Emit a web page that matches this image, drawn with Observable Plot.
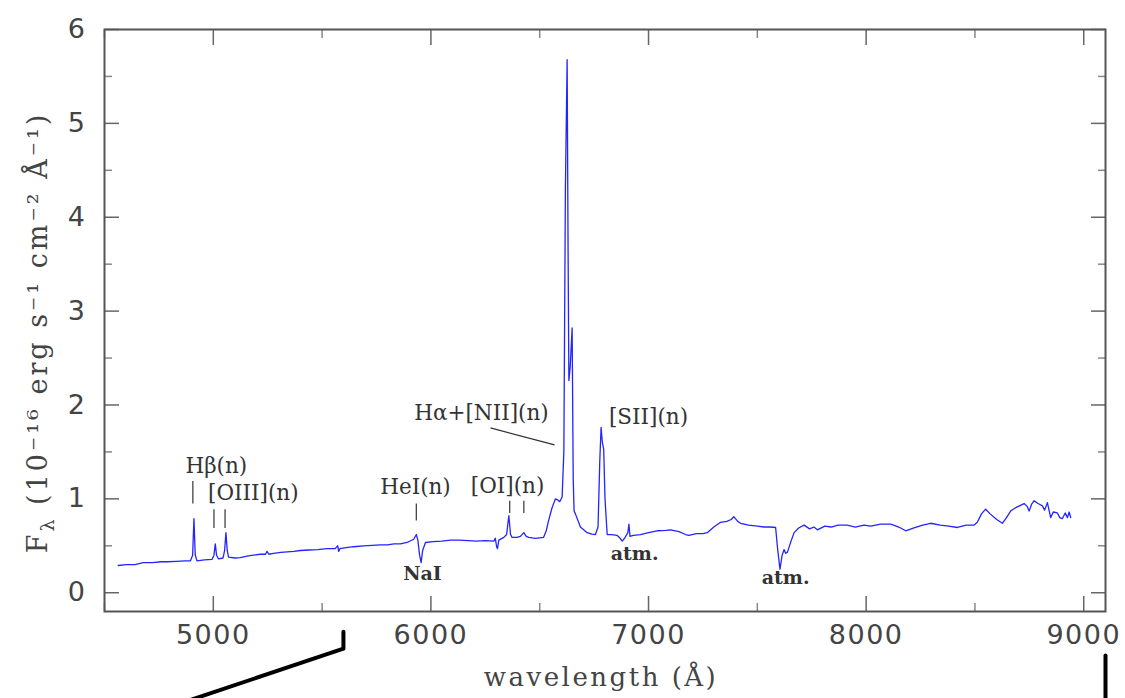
<!DOCTYPE html>
<html>
<head>
<meta charset="utf-8">
<script src="https://cdn.jsdelivr.net/npm/d3@7"></script>
<script src="https://cdn.jsdelivr.net/npm/@observablehq/plot@0.6"></script>
<style>
  html, body { margin: 0; padding: 0; background: #fff; }
  #chart { width: 1125px; height: 698px; overflow: hidden; }
</style>
</head>
<body>
<div id="chart"></div>
<script>
// ---- spectrum (wavelength in Å, flux in 1e-16 erg/s/cm2/Å) ----
const wavelength = [
  4563,4600,4640,4678,4720,4760,4789,4830,4870,4895,4905,4911,4917,4925,4960,4994,
  5003,5009,5015,5024,5045,5052,5058,5064,5070,5100,5124,5155,5184,5215,5240,5247,
  5255,5277,5310,5340,5370,5400,5440,5480,5523,5560,5572,5576,5582,5610,5645,5690,
  5730,5768,5800,5830,5860,5895,5921,5933,5940,5948,5955,5962,5975,6010,6050,6090,
  6130,6170,6210,6250,6289,6296,6302,6306,6312,6335,6348,6358,6366,6373,6395,6411,
  6427,6438,6450,6480,6518,6530,6541,6556,6572,6582,6592,6603,6611,6618,6626,6630,
  6634,6640,6649,6654,6658,6664,6687,6718,6740,6756,6768,6776,6782,6788,6794,6800,
  6810,6830,6856,6870,6879,6890,6905,6910,6915,6930,6963,7000,7040,7080,7101,7140,
  7170,7185,7220,7250,7270,7300,7331,7360,7380,7392,7410,7423,7460,7500,7530,7560,
  7584,7594,7604,7614,7623,7630,7638,7655,7669,7690,7715,7740,7760,7776,7810,7840,
  7870,7913,7950,7990,8021,8067,8113,8150,8182,8220,8260,8297,8340,8380,8419,8460,
  8495,8511,8530,8549,8570,8600,8626,8645,8664,8690,8726,8740,8749,8760,8772,8790,
  8810,8820,8833,8848,8860,8879,8890,8902,8915,8925,8933,8940
];
const flux = [
  0.29,0.30,0.30,0.32,0.32,0.33,0.33,0.335,0.34,0.34,0.40,0.79,0.40,0.34,0.35,0.355,
  0.40,0.52,0.40,0.36,0.37,0.45,0.64,0.45,0.38,0.37,0.375,0.39,0.40,0.41,0.41,0.44,
  0.41,0.42,0.43,0.435,0.44,0.45,0.455,0.46,0.47,0.47,0.50,0.44,0.47,0.48,0.49,0.50,
  0.505,0.51,0.51,0.52,0.52,0.54,0.57,0.62,0.56,0.40,0.32,0.45,0.535,0.545,0.55,0.56,
  0.56,0.555,0.55,0.555,0.55,0.58,0.49,0.47,0.56,0.59,0.62,0.82,0.62,0.59,0.59,0.60,
  0.64,0.60,0.59,0.58,0.59,0.66,0.77,0.90,1.00,0.99,0.97,1.02,1.51,4.30,5.68,3.80,
  2.26,2.40,2.82,1.20,0.87,0.84,0.70,0.64,0.625,0.62,0.70,1.40,1.76,1.60,1.53,1.00,
  0.62,0.62,0.61,0.58,0.55,0.58,0.64,0.73,0.60,0.61,0.62,0.64,0.66,0.665,0.67,0.65,
  0.62,0.61,0.63,0.63,0.64,0.70,0.75,0.76,0.78,0.81,0.76,0.74,0.72,0.71,0.70,0.70,
  0.695,0.45,0.25,0.40,0.46,0.42,0.43,0.55,0.64,0.69,0.72,0.68,0.70,0.67,0.71,0.70,
  0.72,0.72,0.70,0.72,0.71,0.73,0.73,0.70,0.66,0.69,0.72,0.74,0.72,0.71,0.695,0.72,
  0.72,0.75,0.84,0.89,0.84,0.78,0.74,0.80,0.87,0.91,0.95,0.92,0.87,0.94,0.98,0.95,
  0.925,0.88,0.96,0.80,0.86,0.85,0.80,0.79,0.85,0.80,0.86,0.80
];

// ---- axes ----
const xMajorTicks = [5000, 6000, 7000, 8000, 9000];
const xMinorTicks = [4500, 5500, 6500, 7500, 8500];
const yMajorTicks = [0, 1, 2, 3, 4, 5, 6];
const yMinorTicks = [0.5, 1.5, 2.5, 3.5, 4.5, 5.5];
const xDomain = [4500, 9100];
const yDomain = [-0.2, 6];
const xLabel = "wavelength (Å)";
const yLabel = "Fλ (10⁻¹⁶ erg s⁻¹ cm⁻² Å⁻¹)";

// ---- line identifications ----
const labelText = ["Hβ(n)", "[OIII](n)", "HeI(n)", "[OI](n)", "Hα+[NII](n)", "[SII](n)"];
const labelX    = [5014, 5184, 5929, 6352, 6232, 7000];
const labelY    = [1.35, 1.06, 1.12, 1.14, 1.91, 1.87];
const absText = ["NaI", "atm.", "atm."];
const absX    = [5961, 6936, 7630];
const absY    = [0.20, 0.41, 0.16];
// short vertical markers above emission lines
const markX  = [4906, 5003, 5054, 5933, 6362, 6427];
const markY1 = [1.19, 0.89, 0.89, 0.95, 0.98, 0.98];
const markY2 = [0.95, 0.69, 0.69, 0.77, 0.85, 0.85];
// leader line for Hα+[NII]
const leaderX = [6274, 6568];
const leaderY = [1.755, 1.574];
// zoom guide lines from the surrounding figure
const guideAX = [5598, 5598, 4821];
const guideAY = [-0.415, -0.596, -1.20];
const guideBX = [9100, 9100];
const guideBY = [-0.67, -1.20];

const spectrum = wavelength.map((w, i) => ({w, f: flux[i]}));
const labels = labelText.map((t, i) => ({t, x: labelX[i], y: labelY[i]}));
const absLabels = absText.map((t, i) => ({t, x: absX[i], y: absY[i]}));
const marks = markX.map((x, i) => ({x, y1: markY1[i], y2: markY2[i]}));
const leader = [{x1: leaderX[0], y1: leaderY[0], x2: leaderX[1], y2: leaderY[1]}];
const guideA = guideAX.map((x, i) => ({x, y: guideAY[i]}));
const guideB = guideBX.map((x, i) => ({x, y: guideBY[i]}));

const tickColor = "#666";
const blank = () => "";

const chart = Plot.plot({
  width: 1125,
  height: 698,
  marginLeft: 104,
  marginRight: 20,
  marginTop: 29,
  marginBottom: 87,
  x: {domain: xDomain},
  y: {domain: yDomain},
  style: {background: "#fff", fontFamily: "DejaVu Sans", overflow: "visible"},
  marks: [
    // minor ticks (inward, all sides)
    Plot.axisX(xMinorTicks, {anchor: "bottom", tickSize: -8, tickFormat: blank, label: null, stroke: "#888", strokeWidth: 1.5}),
    Plot.axisX(xMinorTicks, {anchor: "top", tickSize: -8, tickFormat: blank, label: null, stroke: "#888", strokeWidth: 1.5}),
    Plot.axisY(yMinorTicks, {anchor: "left", tickSize: -8, tickFormat: blank, label: null, stroke: "#888", strokeWidth: 1.5}),
    Plot.axisY(yMinorTicks, {anchor: "right", tickSize: -8, tickFormat: blank, label: null, stroke: "#888", strokeWidth: 1.5}),
    // major ticks
    Plot.axisX(xMajorTicks, {anchor: "bottom", tickSize: -15, tickPadding: 28, label: null,
      tickFormat: d => String(d), fontSize: 27, fill: "#444", stroke: tickColor, strokeWidth: 1.5}),
    Plot.axisX(xMajorTicks, {anchor: "top", tickSize: -15, tickFormat: blank, label: null, stroke: tickColor, strokeWidth: 1.5}),
    Plot.axisY(yMajorTicks, {anchor: "left", tickSize: -15, tickPadding: 33, label: null,
      tickFormat: d => String(d), fontSize: 27, fill: "#444", stroke: tickColor, strokeWidth: 1.5}),
    Plot.axisY(yMajorTicks, {anchor: "right", tickSize: -15, tickFormat: blank, label: null, stroke: tickColor, strokeWidth: 1.5}),
    Plot.frame({stroke: "#555", strokeWidth: 2}),
    // spectrum
    Plot.line(spectrum, {x: "w", y: "f", stroke: "#2424ff", strokeWidth: 1.3, strokeLinejoin: "round"}),
    // identifications
    Plot.link(marks, {x1: "x", x2: "x", y1: "y1", y2: "y2", stroke: "#444", strokeWidth: 1.3}),
    Plot.link(leader, {x1: "x1", y1: "y1", x2: "x2", y2: "y2", stroke: "#333", strokeWidth: 1.3}),
    Plot.text(labels, {x: "x", y: "y", text: "t", fontFamily: "DejaVu Serif", fontSize: 21.5, fill: "#333"}),
    Plot.text(absLabels, {x: "x", y: "y", text: "t", fontFamily: "DejaVu Serif", fontSize: 19, fontWeight: "bold", fill: "#333"}),
    // axis titles
    Plot.text([xLabel], {frameAnchor: "bottom", dy: 66, dx: -4, fontFamily: "DejaVu Serif", fontSize: 26, fill: "#444", lineAnchor: "middle", textAnchor: "middle"}),
    Plot.text([yLabel], {frameAnchor: "left", dx: -66, dy: 12, rotate: -90, fontFamily: "DejaVu Serif", fontSize: 27, fill: "#444", lineAnchor: "middle", textAnchor: "middle"}),
    // guide lines from surrounding figure
    Plot.line(guideA, {x: "x", y: "y", stroke: "#000", strokeWidth: 4}),
    Plot.line(guideB, {x: "x", y: "y", stroke: "#000", strokeWidth: 4})
  ]
});

document.getElementById("chart").appendChild(chart);

// letter spacing for axis text to mimic the original wide typeface
chart.querySelectorAll("text").forEach(t => {
  const s = t.textContent;
  if (/^\d+$/.test(s)) t.setAttribute("letter-spacing", "1.5");
  if (s === xLabel) t.setAttribute("letter-spacing", "2.5");
  if (s === yLabel) {
    t.setAttribute("letter-spacing", "3");
    t.textContent = "";
    const ns = "http://www.w3.org/2000/svg";
    const a = document.createElementNS(ns, "tspan"); a.textContent = "F";
    const b = document.createElementNS(ns, "tspan"); b.textContent = "λ";
    b.setAttribute("font-size", "19"); b.setAttribute("dy", "7");
    const c = document.createElementNS(ns, "tspan"); c.textContent = s.slice(2);
    c.setAttribute("dy", "-7");
    t.append(a, b, c);
  }
});
</script>
</body>
</html>
